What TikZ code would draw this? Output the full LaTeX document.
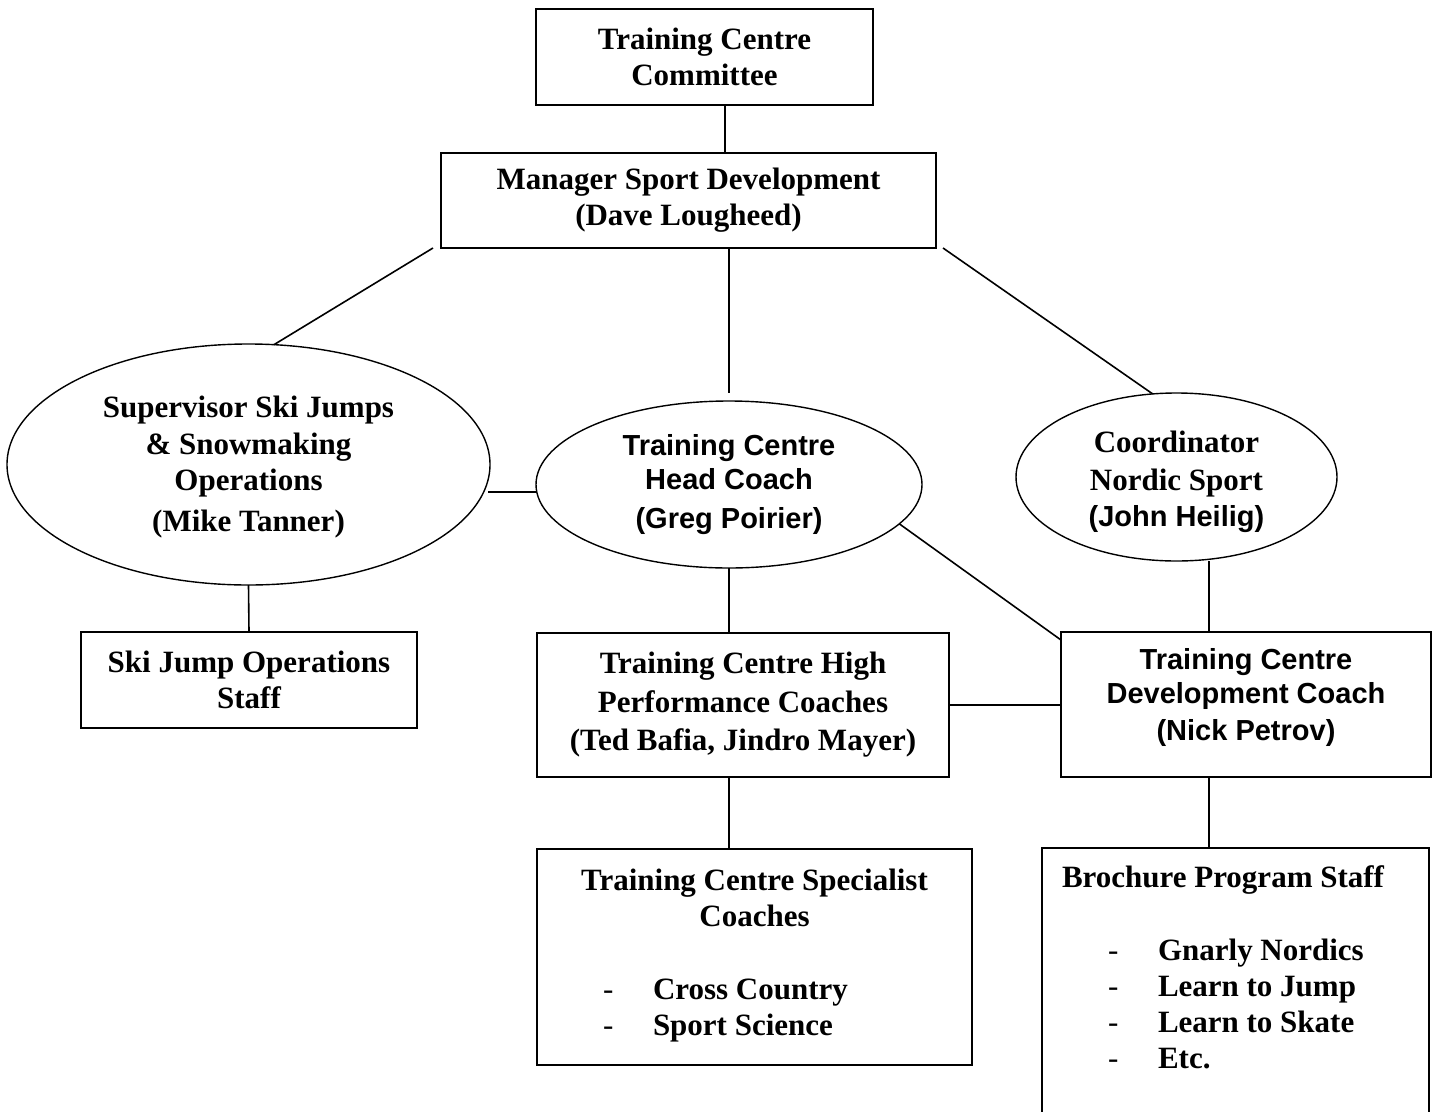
\documentclass[tikz,border=0pt]{standalone}
\usepackage{fontspec}
\setmainfont{Liberation Serif}
\newfontfamily\arialfont{Liberation Sans}
\usetikzlibrary{shapes.geometric, calc}

\newcommand{\dashitem}[1]{\hspace*{66pt}\makebox[50pt][l]{\mdseries -}#1}

\begin{document}
\begin{tikzpicture}[x=1pt, y=-1pt,
        every node/.style={align=center, inner sep=0pt, outer sep=0pt,
            font=\fontsize{31}{36}\selectfont\bfseries},
        orgbox/.style={draw, line width=1.6pt},
        orgoval/.style={draw, ellipse, line width=1.4pt},
        sans/.style={font=\fontsize{29}{34}\selectfont\arialfont\bfseries},
        link/.style={line width=1.6pt}]
        \useasboundingbox (0, 0) rectangle (1437, 1111);
        \clip (0, 0) rectangle (1437, 1111);

        \coordinate (spine) at (725, 0);
        \coordinate (rightSpine) at (1209, 0);
        \coordinate (hcTop) at (729, 393);
        \coordinate (midLink) at (488, 492);

        \node[orgbox, minimum width=337, minimum height=96] (committee) at (704.5, 57)
            {Training Centre\\Committee};
        \node[orgbox, minimum width=495, minimum height=95] (manager) at (688.5, 200.5)
            {Manager Sport Development\\(Dave Lougheed)};

        \node[orgoval, minimum width=483, minimum height=241] (supervisor) at (248.5, 464.5)
            {\rule{0pt}{27pt}Supervisor Ski Jumps\\[1pt]\& Snowmaking\\Operations\\[5pt](Mike Tanner)};
        \node[orgoval, sans, minimum width=386, minimum height=167] (headcoach) at (729, 484.5)
            {Training Centre\\Head Coach\\[5pt](Greg Poirier)};
        \node[orgoval, minimum width=321, minimum height=168] (coordinator) at (1176.5, 477)
            {\rule{0pt}{31pt}Coordinator\\[2pt]Nordic Sport\\{\arialfont\fontsize{29}{34}\selectfont (John Heilig)}};

        \node[orgbox, minimum width=336, minimum height=96] (skijump) at (249, 680)
            {Ski Jump Operations\\Staff};
        \node[orgbox, minimum width=412, minimum height=144] (highperf) at (743, 705)
            {Training Centre High\\[2.5pt]Performance Coaches\\[2.5pt](Ted Bafia, Jindro Mayer)};
        \node[orgbox, sans, minimum width=370, minimum height=145] (devcoach) at (1246, 704.5)
            {\parbox[c][145pt][t]{370pt}{\centering\vspace*{16pt}Training Centre\\Development Coach\\[3pt](Nick Petrov)}};

        \node[orgbox, minimum width=435, minimum height=216] (specialist) at (754.5, 957)
            {\parbox[c][216pt][t]{435pt}{\vspace*{20pt}{\centering Training Centre Specialist\\Coaches\par}
            \vspace{37pt}\dashitem{Cross Country}\\\dashitem{Sport Science}}};
        \node[orgbox, anchor=north, minimum width=387, minimum height=320] (brochure) at (1235.5, 848)
            {\parbox[c][320pt][t]{387pt}{\vspace*{18pt}\hspace*{20pt}Brochure Program Staff\\[37pt]
            \dashitem{Gnarly Nordics}\\\dashitem{Learn to Jump}\\\dashitem{Learn to Skate}\\\dashitem{Etc.}}};

        \draw[link] (committee.south -| spine) -- (manager.north -| spine);
        \draw[link] ($(manager.south west)+(-8, 0)$) -- (supervisor.78);
        \draw[link] (manager.south -| hcTop) -- (hcTop);
        \draw[link] ($(manager.south east)+(7, 0)$) -- (coordinator.106);
        \draw[link] (midLink) -- (headcoach.west |- midLink);
        \draw[link] (headcoach.-13) -- ($(devcoach.north west)+(0, 8)$);
        \draw[link] (coordinator.south -| rightSpine) -- (devcoach.north -| rightSpine);
        \draw[link] (supervisor.south) -- (skijump.north);
        \draw[link] (headcoach.south) -- (highperf.north -| headcoach.south);
        \draw[link] (highperf.east) -- (highperf.east -| devcoach.west);
        \draw[link] (highperf.south -| headcoach.south) -- (specialist.north -| headcoach.south);
        \draw[link] (devcoach.south -| rightSpine) -- (brochure.north -| rightSpine);
    \end{tikzpicture}
\end{document}
